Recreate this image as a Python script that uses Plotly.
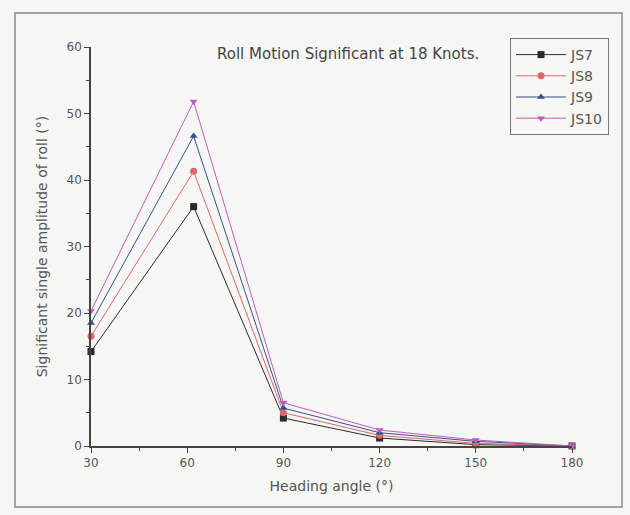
import plotly.graph_objects as go

# Heading angle (deg) and significant single amplitude of roll (deg)
heading = [30, 62, 90, 120, 150, 180]
js7 = [14.2, 36.0, 4.2, 1.2, 0.2, 0.0]
js8 = [16.5, 41.3, 5.0, 1.6, 0.4, 0.0]
js9 = [18.5, 46.6, 5.7, 2.0, 0.7, 0.0]
js10 = [20.3, 51.8, 6.5, 2.4, 0.9, 0.0]

series_names = ["JS7", "JS8", "JS9", "JS10"]
series_values = [js7, js8, js9, js10]
colors = ["#2a2a2a", "#e0666a", "#35508f", "#c25bc4"]
symbols = ["square", "circle", "triangle-up", "triangle-down"]

fig = go.Figure()
for name, vals, col, sym in zip(series_names, series_values, colors, symbols):
    fig.add_trace(go.Scatter(
        x=heading, y=vals, name=name, mode="lines+markers",
        line=dict(color=col, width=1),
        marker=dict(symbol=sym, size=7, color=col),
        cliponaxis=False,
    ))

# plot area in pixels (for frame placement in paper coords)
L, R, T, B = 91, 572, 47, 446
W, H = 630, 515


def px_x(p):
    return (p - L) / (R - L)


def px_y(p):
    return (B - p) / (B - T)


fig.add_shape(type="rect", xref="paper", yref="paper",
              x0=px_x(15), x1=px_x(622), y0=px_y(507), y1=px_y(13),
              line=dict(color="#8a8a8a", width=1.5), layer="below")

FONT = "DejaVu Sans, Liberation Sans, sans-serif"

fig.add_annotation(text="Roll Motion Significant at 18 Knots.",
                   xref="paper", yref="paper", x=px_x(348), y=px_y(43),
                   showarrow=False, font=dict(family=FONT, size=15, color="#444"))

axis_font = dict(family=FONT, size=12, color="#555")
title_font = dict(family=FONT, size=14, color="#555")

fig.update_xaxes(
    range=[30, 180], tickvals=[30, 60, 90, 120, 150, 180],
    ticks="outside", ticklen=5, tickwidth=1.2, tickcolor="#444",
    minor=dict(tickvals=[45, 75, 105, 135, 165], ticks="outside", ticklen=3, tickcolor="#444"),
    showline=True, linecolor="#444", linewidth=1.5,
    showgrid=False, zeroline=False, tickfont=axis_font,
    title=dict(text="Heading angle (°)", font=title_font, standoff=12),
)
fig.update_yaxes(
    range=[0, 60], tickvals=[0, 10, 20, 30, 40, 50, 60],
    ticks="outside", ticklen=5, tickwidth=1.2, tickcolor="#444",
    minor=dict(tickvals=[5, 15, 25, 35, 45, 55], ticks="outside", ticklen=3, tickcolor="#444"),
    showline=True, linecolor="#444", linewidth=1.5,
    showgrid=False, zeroline=False, tickfont=axis_font,
    title=dict(text="Significant single amplitude of roll (°)", font=title_font, standoff=16),
)

fig.update_layout(
    width=W, height=H,
    margin=dict(l=L, r=W - R, t=T, b=H - B),
    paper_bgcolor="#f6f6f4", plot_bgcolor="#f6f6f4",
    font=dict(family=FONT, color="#444"),
    legend=dict(x=px_x(510), y=px_y(38), xanchor="left", yanchor="top",
                bordercolor="#777", borderwidth=1, bgcolor="#f6f6f4",
                itemwidth=50,
                font=dict(family=FONT, size=14, color="#555"), tracegroupgap=0),
    showlegend=True,
)

fig.write_html("out.html")
